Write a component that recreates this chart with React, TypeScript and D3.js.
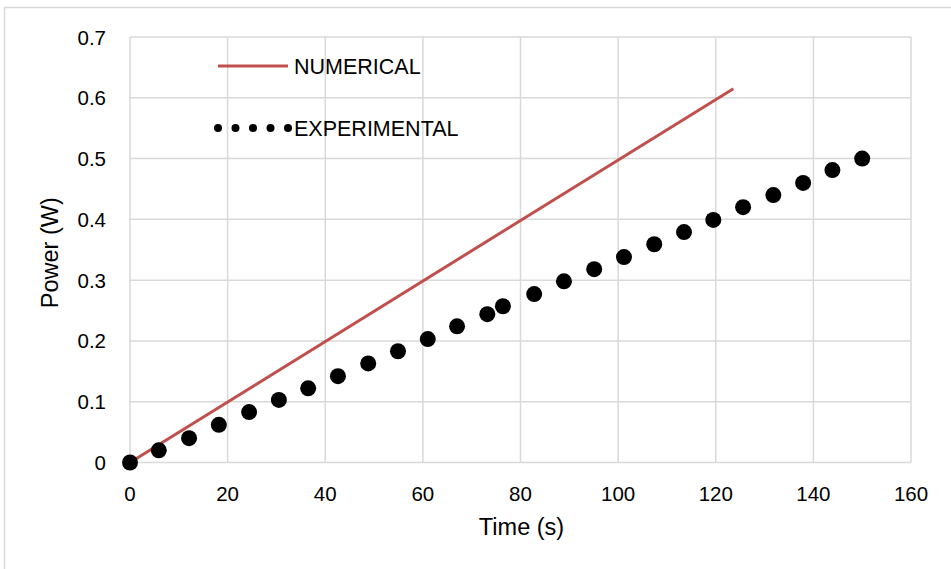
import React from "react";
import * as d3 from "d3";

const expTime = [0, 5.9, 12.1, 18.2, 24.4, 30.5, 36.5, 42.6, 48.8, 54.9, 61, 67, 73.2, 76.4, 82.8, 88.9, 95.1, 101.2, 107.4, 113.5, 119.5, 125.6, 131.8, 137.9, 143.9, 150];
const expPower = [0, 0.02, 0.04, 0.062, 0.083, 0.103, 0.122, 0.142, 0.163, 0.183, 0.203, 0.224, 0.244, 0.257, 0.277, 0.298, 0.318, 0.338, 0.359, 0.379, 0.399, 0.42, 0.44, 0.46, 0.481, 0.5];
const numTime = [0, 123.6];
const numPower = [0, 0.615];
const xTicks = [0, 20, 40, 60, 80, 100, 120, 140, 160];
const yTicks = [0, 0.1, 0.2, 0.3, 0.4, 0.5, 0.6, 0.7];

export default function App() {
  const W = 951, H = 569;
  const left = 130, right = 911, top = 37, bottom = 462.5;
  const x = d3.scaleLinear().domain([0, 160]).range([left, right]);
  const y = d3.scaleLinear().domain([0, 0.7]).range([bottom, top]);
  const line = d3.line<number>().x((_, i) => x(numTime[i])).y((d) => y(d));
  const font = "'Liberation Sans', Arial, sans-serif";
  const grid = "#d9d9d9";
  const fs = 20.5;
  const legFs = 21.5;
  const titleFs = 23.5;
  return (
    <svg width={W} height={H} style={{ position: "absolute", left: 0, top: 0 }} fontFamily={font}>
      <rect x={0} y={0} width={W} height={H} fill="#fff" />
      <rect x={4.5} y={7.5} width={980} height={620} fill="none" stroke={grid} strokeWidth={1.5} />
      {xTicks.map((t) => (
        <line key={"gx" + t} x1={x(t)} x2={x(t)} y1={top} y2={bottom} stroke={grid} strokeWidth={1.5} />
      ))}
      {yTicks.map((t) => (
        <line key={"gy" + t} x1={left} x2={right} y1={y(t)} y2={y(t)} stroke={grid} strokeWidth={1.5} />
      ))}
      {xTicks.map((t) => (
        <text key={"tx" + t} x={x(t)} y={bottom + 38.5} textAnchor="middle" fontSize={fs} fill="#000">{t}</text>
      ))}
      {yTicks.map((t) => (
        <text key={"ty" + t} x={left - 24} y={y(t) + 7.5} textAnchor="end" fontSize={fs} fill="#000">{t === 0 ? "0" : d3.format(".1f")(t)}</text>
      ))}
      <path d={line(numPower) || ""} fill="none" stroke="#C0504D" strokeWidth={3} />
      {expTime.map((t, i) => (
        <circle key={"p" + i} cx={x(t)} cy={y(expPower[i])} r={8} fill="#000" />
      ))}
      <text x={(left + right) / 2 + 1} y={535} textAnchor="middle" fontSize={titleFs} fill="#000">Time (s)</text>
      <text transform={`translate(58, ${(top + bottom) / 2 + 3}) rotate(-90)`} textAnchor="middle" fontSize={titleFs} fill="#000">Power (W)</text>
      <line x1={218} x2={288} y1={66} y2={66} stroke="#C0504D" strokeWidth={3} />
      <text x={294} y={73.5} fontSize={legFs} fill="#000">NUMERICAL</text>
      {[0, 1, 2, 3, 4].map((k) => (
        <circle key={"ld" + k} cx={218 + k * 17.5} cy={128} r={4} fill="#000" />
      ))}
      <text x={294} y={135.5} fontSize={legFs} fill="#000">EXPERIMENTAL</text>
    </svg>
  );
}
